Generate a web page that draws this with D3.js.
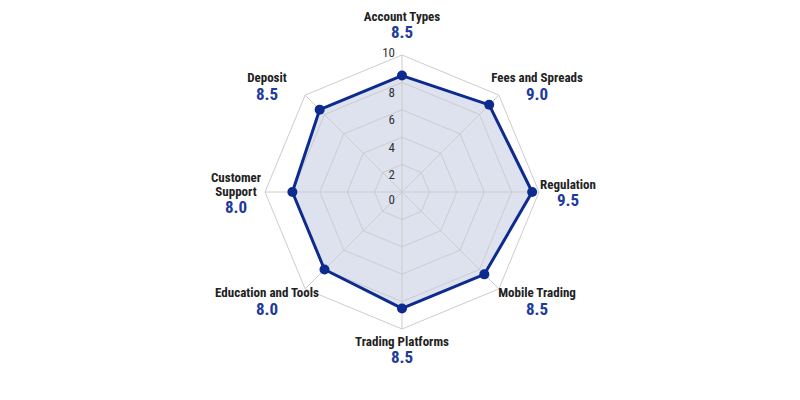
<!DOCTYPE html>
<html>
<head>
<meta charset="utf-8">
<script src="https://cdn.jsdelivr.net/npm/d3@7"></script>
<style>
  html, body { margin: 0; padding: 0; background: #ffffff; }
  svg { display: block; }
  text { font-family: "Liberation Sans Narrow", "Roboto Condensed", "Arial Narrow", "DejaVu Sans Condensed", sans-serif; }
</style>
</head>
<body>
<svg id="chart" width="800" height="400"></svg>
<script>
// ---- data ----
const categories = ["Account Types", "Fees and Spreads", "Regulation", "Mobile Trading",
                    "Trading Platforms", "Education and Tools", "Customer Support", "Deposit"];
const scores = [8.5, 9.0, 9.5, 8.5, 8.5, 8.0, 8.0, 8.5];
const gridLevels = [2, 4, 6, 8, 10];
const tickValues = [0, 2, 4, 6, 8, 10];
const scoreMax = 10;

// ---- layout ----
const width = 800, height = 400;
const cx = 402, cy = 192, radius = 137;
const lineColor = "#0d2b8e";
const valueColor = "#1d3a9c";

const svg = d3.select("#chart");
const g = svg.append("g").attr("transform", `translate(${cx},${cy})`);

const n = categories.length;
const angle = d3.scaleLinear().domain([0, n]).range([0, 2 * Math.PI]);
const r = d3.scaleLinear().domain([0, scoreMax]).range([0, radius]);

const pt = (i, v) => [Math.sin(angle(i)) * r(v), -Math.cos(angle(i)) * r(v)];

const radialLine = d3.lineRadial()
  .angle((d, i) => angle(i))
  .radius(d => r(d))
  .curve(d3.curveLinearClosed);

// data area (drawn first, grid over it)
g.append("path")
  .datum(scores)
  .attr("d", radialLine)
  .attr("fill", "#1f3a93")
  .attr("fill-opacity", 0.15)
  .attr("stroke", "none");

g.selectAll("path.grid")
  .data(gridLevels)
  .join("path")
  .attr("class", "grid")
  .attr("d", lv => radialLine(categories.map(() => lv)))
  .attr("fill", "none")
  .attr("stroke", "#cccccc")
  .attr("stroke-width", 1);

g.selectAll("line.spoke")
  .data(categories)
  .join("line")
  .attr("class", "spoke")
  .attr("x1", 0).attr("y1", 0)
  .attr("x2", (d, i) => pt(i, scoreMax)[0])
  .attr("y2", (d, i) => pt(i, scoreMax)[1])
  .attr("stroke", "#cccccc")
  .attr("stroke-width", 1);

// data outline
g.append("path")
  .datum(scores)
  .attr("d", radialLine)
  .attr("fill", "none")
  .attr("stroke", lineColor)
  .attr("stroke-width", 3)
  .attr("stroke-linejoin", "round");

g.selectAll("circle.pt")
  .data(scores)
  .join("circle")
  .attr("class", "pt")
  .attr("cx", (d, i) => pt(i, d)[0])
  .attr("cy", (d, i) => pt(i, d)[1])
  .attr("r", 5)
  .attr("fill", lineColor);

// tick labels
g.selectAll("text.tick")
  .data(tickValues)
  .join("text")
  .attr("class", "tick")
  .attr("x", -7)
  .attr("y", d => -r(d) + (d === scoreMax ? -3 : (d === 0 ? 7 : 10)))
  .attr("dominant-baseline", "central")
  .attr("text-anchor", "end")
  .attr("font-size", 13)
  .attr("fill", "#333333")
  .text(d => d);

// category labels
function wrapLines(name, i) {
  const s = Math.sin(angle(i));
  if (Math.abs(Math.abs(s) - 1) < 1e-6 && s < 0 && name.includes(" ")) {
    return name.split(" ");
  }
  return [name];
}

categories.forEach((name, i) => {
  const a = angle(i);
  const s = Math.sin(a), c = Math.cos(a);
  const d2 = Math.abs(Math.sin(2 * a));
  const x = s * (166 + 25 * d2);
  const y = -c * (162.5 - 10.5 * d2) + 4 * d2 - 5.5 * c * c;
  const lines = wrapLines(name, i);
  const nameGap = 14, valueGap = 16;
  const total = (lines.length - 1) * nameGap + valueGap;
  const top = y - total / 2;
  const lbl = g.append("g").attr("class", "label");
  lines.forEach((ln, k) => {
    lbl.append("text")
      .attr("x", x)
      .attr("y", top + k * nameGap)
      .attr("dominant-baseline", "central")
      .attr("text-anchor", "middle")
      .attr("font-size", 13)
      .attr("font-weight", "bold")
      .attr("fill", "#222222")
      .text(ln);
  });
  lbl.append("text")
    .attr("x", x)
    .attr("y", top + (lines.length - 1) * nameGap + valueGap)
    .attr("dominant-baseline", "central")
    .attr("text-anchor", "middle")
    .attr("font-size", 17)
    .attr("font-weight", "bold")
    .attr("fill", valueColor)
    .text(d3.format(".1f")(scores[i]));
});
</script>
</body>
</html>
